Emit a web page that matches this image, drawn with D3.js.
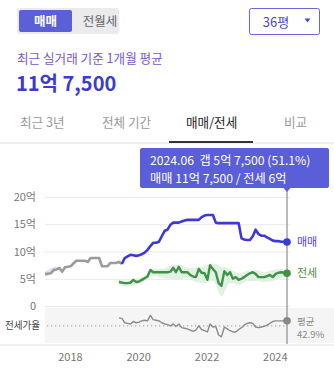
<!DOCTYPE html>
<html>
<head>
<meta charset="utf-8">
<script src="https://cdn.jsdelivr.net/npm/d3@7/dist/d3.min.js"></script>
<style>
  html, body { margin: 0; padding: 0; background: #fff; }
  svg { display: block; font-family: "Noto Sans CJK KR", "Noto Sans", sans-serif; }
</style>
</head>
<body>
<svg id="chart" width="334" height="371"></svg>
<script>
// ---- data (억 원, monthly) ----
const olderSaleStart = "2017-05";
const olderSaleValues = [5.9, 5.9, 6.0, 6.6, 6.7, 7.0, 6.3, 7.1, 7.2, 7.3, 7.8, 8.3, 8.3, 8.3,
  8.3, 8.1, 8.8, 8.8, 8.8, 8.8, 7.3, 7.3, 7.3, 7.9, 7.9, 7.9, 8.1, 7.7];

const saleStart = "2019-08";
const saleValues = [7.7, 8.8, 9.1, 9.4, 9.3, 9.2, 9.3, 9.5, 9.8, 10.3, 11.0, 11.6, 11.6, 11.8,
  12.8, 13.8, 14.0, 14.9, 15.3, 15.3, 15.3, 15.5, 15.7, 15.8, 15.8, 15.8, 15.8, 15.8, 16.3,
  16.6, 16.7, 16.7, 16.7, 15.3, 15.2, 15.2, 15.2, 15.2, 15.2, 15.2, 15.2, 15.2, 12.4, 12.2,
  12.1, 12.1, 12.8, 14.0, 13.2, 12.9, 12.9, 12.6, 12.3, 12.0, 11.9, 11.9, 11.8, 11.8, 11.75];

const jeonseStart = "2019-07";
const jeonseValues = [4.4, 4.3, 4.2, 4.2, 4.3, 4.8, 4.4, 4.5, 4.8, 5.1, 5.4, 6.6, 6.2, 6.2,
  6.2, 6.2, 6.2, 6.2, 6.3, 7.0, 6.2, 7.2, 6.2, 6.2, 6.2, 5.7, 5.4, 5.3, 6.8, 6.1, 6.0, 4.8,
  7.5, 6.8, 6.2, 4.2, 3.7, 6.4, 5.7, 6.2, 5.0, 5.3, 4.8, 5.0, 5.3, 5.7, 6.0, 6.2, 5.9, 5.3,
  5.3, 5.3, 5.5, 5.7, 5.3, 5.9, 6.1, 6.2, 6.1, 6.0];

// jeonse transaction range, quarterly
const jeonseBandStart = "2019-07";
const jeonseBandLow  = [3.8, 3.6, 4.0, 4.6, 5.6, 5.2, 5.0, 4.8, 5.2, 4.4, 4.2, 4.6, 1.8, 4.2, 3.8, 4.6, 4.6, 4.4, 4.6, 5.2];
const jeonseBandHigh = [4.8, 4.6, 5.0, 5.6, 6.8, 6.8, 7.4, 7.6, 7.0, 7.0, 7.4, 7.8, 7.2, 6.8, 6.0, 6.4, 6.6, 6.2, 6.6, 6.8];

// sale transaction range at the start of the record
const saleBandStart = "2017-05";
const saleBandLow  = [5.4, 5.6, 5.9, 6.2, 6.4];
const saleBandHigh = [6.3, 6.6, 6.9, 7.1, 7.3];

// 전세가율 (%), monthly
const ratioStart = "2019-07";
const ratioValues = [56, 55, 48, 47, 46, 50, 48, 49, 51, 52, 51, 60, 53, 52, 51, 48, 46, 45,
  43, 46, 42, 46, 40, 39, 38, 36, 34, 36, 43, 37, 35, 33, 46, 41, 42, 28, 25, 41, 38, 35,
  33, 33, 37, 40, 44, 47, 48, 47, 41, 40, 41, 42, 44, 47, 50, 51, 51, 51, 51, 51.1];
const ratioAverage = 42.9;

const yTicks = [0, 5, 10, 15, 20];
const yearTicks = [2018, 2020, 2022, 2024];
const periodTabs = ["최근 3년", "전체 기간", "매매/전세", "비교"];

// ---- helpers ----
const parseMonth = d3.timeParse("%Y-%m");
const monthly = (start, values, step = 1) =>
  values.map((v, i) => ({ date: d3.timeMonth.offset(parseMonth(start), i * step), v }));
const banded = (start, lo, hi, step) =>
  lo.map((l, i) => ({ date: d3.timeMonth.offset(parseMonth(start), i * step), lo: l, hi: hi[i] }));

const olderSale = monthly(olderSaleStart, olderSaleValues);
const sale = monthly(saleStart, saleValues);
const jeonse = monthly(jeonseStart, jeonseValues);
const ratio = monthly(ratioStart, ratioValues);
const jBand = banded(jeonseBandStart, jeonseBandLow, jeonseBandHigh, 3);
jBand.push({ date: jeonse[jeonse.length - 1].date, lo: 5.5, hi: 6.4 });
const sBand = banded(saleBandStart, saleBandLow, saleBandHigh, 1);

const svg = d3.select("#chart");

// ---- header controls ----
svg.append("rect").attr("x", 17).attr("y", 8).attr("width", 102).attr("height", 26)
  .attr("rx", 3).attr("fill", "#ebebee");
svg.append("rect").attr("x", 19).attr("y", 10).attr("width", 53).attr("height", 22)
  .attr("rx", 2).attr("fill", "#5b5fd8");
svg.append("text").attr("x", 45.5).attr("y", 25.5).attr("text-anchor", "middle")
  .attr("font-size", 12.5).attr("font-weight", 700).attr("fill", "#fff").text("매매");
svg.append("text").attr("x", 100).attr("y", 25.5).attr("text-anchor", "middle")
  .attr("font-size", 12.5).attr("fill", "#666").text("전월세");

svg.append("rect").attr("x", 249.5).attr("y", 8.5).attr("width", 70).attr("height", 26)
  .attr("rx", 2).attr("fill", "#fff").attr("stroke", "#6466da");
svg.append("text").attr("x", 276).attr("y", 26.5).attr("text-anchor", "middle")
  .attr("font-size", 13).attr("fill", "#4a49c8").text("36평");
svg.append("path").attr("d", "M304.5,18.5 L310.5,18.5 L307.5,22.5 Z").attr("fill", "#4a49c8");

svg.append("text").attr("x", 17).attr("y", 62.5).attr("font-size", 12.6)
  .attr("fill", "#7a58d4").text("최근 실거래 기준 1개월 평균");
svg.append("text").attr("x", 16).attr("y", 91).attr("font-size", 20).attr("font-weight", 700)
  .attr("fill", "#3b3bd0").text("11억 7,500");

// ---- period tabs ----
const tabX = [20, 102, 186, 284];
svg.selectAll("text.tab").data(periodTabs).join("text").attr("class", "tab")
  .attr("x", (d, i) => tabX[i]).attr("y", 127).attr("font-size", 12.6)
  .attr("fill", (d, i) => i === 2 ? "#222" : "#9a9a9a").text(d => d);
svg.append("rect").attr("x", 0).attr("y", 142.5).attr("width", 334).attr("height", 1).attr("fill", "#dedede");
svg.append("rect").attr("x", 169).attr("y", 141).attr("width", 84).attr("height", 2).attr("fill", "#333");

// ---- scales ----
const x = d3.scaleTime()
  .domain([parseMonth("2017-05"), parseMonth("2024-06")])
  .range([45, 287]);
const y = d3.scaleLinear().domain([0, 20]).range([306, 197]);
const yr = d3.scaleLinear().domain([15, 72]).range([343, 308]);

// ---- ratio panel background ----
svg.append("rect").attr("x", 45).attr("y", 308).attr("width", 289).attr("height", 35).attr("fill", "#f5f5f5");
svg.append("rect").attr("x", 0).attr("y", 344.5).attr("width", 334).attr("height", 1).attr("fill", "#e2e2e2");

// ---- y axis & grid ----
const yAxis = d3.axisLeft(y).tickValues(yTicks).tickSize(-245)
  .tickFormat(d => d === 0 ? "0" : d + "억");
const gy = svg.append("g").attr("transform", "translate(45,0)").call(yAxis);
gy.select(".domain").remove();
gy.selectAll(".tick line").attr("stroke", "#e9e9e9");
gy.selectAll(".tick text").attr("x", -9).attr("font-size", 11).attr("fill", "#777")
  .attr("font-family", "Noto Sans CJK KR, sans-serif");

// ---- x axis ----
const xAxis = d3.axisBottom(x).tickValues(yearTicks.map(yv => new Date(yv, 0, 1)))
  .tickSize(0).tickFormat(d3.timeFormat("%Y"));
const gx = svg.append("g").attr("transform", "translate(2,350)").call(xAxis);
gx.select(".domain").remove();
gx.selectAll(".tick text").attr("font-size", 11).attr("fill", "#777")
  .attr("font-family", "Noto Sans CJK KR, sans-serif");

// ---- ranges ----
const bandArea = d3.area().x(d => x(d.date)).y0(d => y(d.lo)).y1(d => y(d.hi)).curve(d3.curveMonotoneX);
svg.append("path").datum(jBand).attr("d", bandArea).attr("fill", "#dcefdd").attr("opacity", 0.85);
svg.append("path").datum(sBand).attr("d", bandArea).attr("fill", "#e2e0f6");

// ---- price lines ----
const line = d3.line().x(d => x(d.date)).y(d => y(d.v));
svg.append("path").datum(olderSale).attr("d", line).attr("fill", "none")
  .attr("stroke", "#9b9b9b").attr("stroke-width", 2.6).attr("stroke-linejoin", "round");
svg.append("path").datum(jeonse).attr("d", line).attr("fill", "none")
  .attr("stroke", "#3f9248").attr("stroke-width", 2.4).attr("stroke-linejoin", "round");
svg.append("path").datum(sale).attr("d", line).attr("fill", "none")
  .attr("stroke", "#3c38dc").attr("stroke-width", 2.6).attr("stroke-linejoin", "round");

// ---- ratio panel ----
svg.append("line").attr("x1", 47).attr("x2", 287).attr("y1", yr(ratioAverage)).attr("y2", yr(ratioAverage))
  .attr("stroke", "#aaa").attr("stroke-width", 1.2).attr("stroke-dasharray", "1.3,2.7");
const rline = d3.line().x(d => x(d.date)).y(d => yr(d.v));
svg.append("path").datum(ratio).attr("d", rline).attr("fill", "none")
  .attr("stroke", "#8a8a8a").attr("stroke-width", 1.4).attr("stroke-linejoin", "round");
svg.append("text").attr("x", 5).attr("y", 329).attr("font-size", 10.5)
  .attr("textLength", 35).attr("lengthAdjust", "spacingAndGlyphs")
  .attr("fill", "#444").text("전세가율");

// ---- focus marker at latest month ----
const last = sale[sale.length - 1];
const fx = x(last.date);
svg.append("line").attr("x1", fx).attr("x2", fx).attr("y1", 188).attr("y2", 344)
  .attr("stroke", "#8c8c8c").attr("stroke-width", 1.2);
svg.append("circle").attr("cx", fx).attr("cy", y(last.v)).attr("r", 3.8).attr("fill", "#3c38dc");
const lastJ = jeonse[jeonse.length - 1];
svg.append("circle").attr("cx", fx).attr("cy", y(lastJ.v)).attr("r", 3.8).attr("fill", "#3f9248");
const lastR = ratio[ratio.length - 1];
svg.append("circle").attr("cx", fx).attr("cy", yr(lastR.v)).attr("r", 3.8).attr("fill", "#888");

svg.append("text").attr("x", 297).attr("y", y(last.v) + 4).attr("font-size", 11)
  .attr("fill", "#5148e0").text("매매");
svg.append("text").attr("x", 297).attr("y", y(lastJ.v) + 4).attr("font-size", 11)
  .attr("fill", "#4c8c3f").text("전세");
svg.append("text").attr("x", 297).attr("y", 325).attr("font-size", 9.5)
  .attr("fill", "#888").text("평균");
svg.append("text").attr("x", 297).attr("y", 337.5).attr("font-size", 9.5)
  .attr("fill", "#888").text(ratioAverage + "%");

// ---- tooltip ----
const gap = last.v - lastJ.v;
const fmtEok = v => {
  const eok = Math.floor(v), man = Math.round((v - eok) * 10000);
  return man ? `${eok}억 ${d3.format(",")(man)}` : `${eok}억`;
};
const tip = svg.append("g");
tip.append("rect").attr("x", 140).attr("y", 148).attr("width", 189).attr("height", 40)
  .attr("rx", 2).attr("fill", "#5a5ed8");
tip.append("path").attr("d", `M${fx - 3.5},188 L${fx + 3.5},188 L${fx},192 Z`).attr("fill", "#5a5ed8");
tip.append("text").attr("x", 150).attr("y", 164.5).attr("font-size", 12.2).attr("fill", "#fff")
  .attr("xml:space", "preserve")
  .text(`2024.06  갭 ${fmtEok(gap)} (${lastR.v}%)`);
tip.append("text").attr("x", 150).attr("y", 183).attr("font-size", 12.2).attr("fill", "#fff")
  .text(`매매 ${fmtEok(last.v)} / 전세 ${fmtEok(lastJ.v)}`);
</script>
</body>
</html>
